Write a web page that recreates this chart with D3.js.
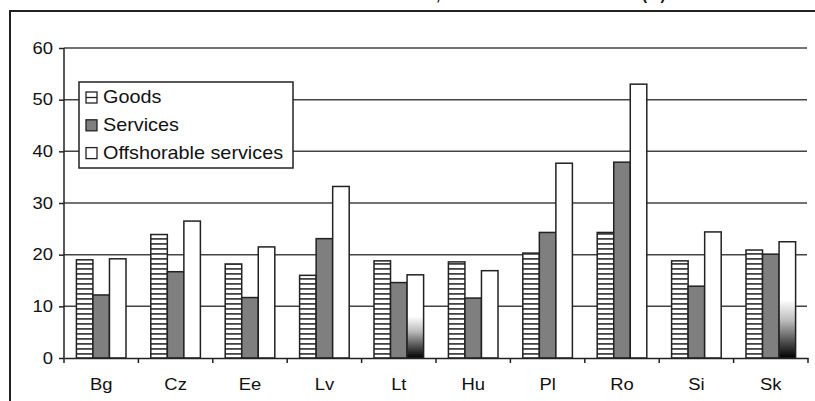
<!DOCTYPE html>
<html>
<head>
<meta charset="utf-8">
<script src="https://cdn.jsdelivr.net/npm/d3@7/dist/d3.min.js"></script>
<style>
  body { margin: 0; background: #fff; }
  svg { display: block; font-family: Arial, "Liberation Sans", sans-serif; }
</style>
</head>
<body>
<div id="chart"></div>
<script>
const countries = ["Bg", "Cz", "Ee", "Lv", "Lt", "Hu", "Pl", "Ro", "Si", "Sk"];
const seriesNames = ["Goods", "Services", "Offshorable services"];
const goods = [19.0, 23.9, 18.2, 16.0, 18.8, 18.6, 20.3, 24.3, 18.8, 20.9];
const services = [12.2, 16.7, 11.7, 23.1, 14.6, 11.6, 24.3, 37.9, 13.9, 20.1];
const offshorable = [19.2, 26.5, 21.5, 33.2, 16.1, 16.9, 37.7, 53.0, 24.4, 22.5];
const yTicks = [0, 10, 20, 30, 40, 50, 60];
const titleText = "Increase in the share, EU-10 relative to the EU-15 (%)";
// bars that show the dark smudge at the bottom in the scan
const smudged = ["Lt", "Sk"];

const W = 815, H = 401;
const plot = { left: 64, right: 808, top: 48, bottom: 358 };
const stretch = 1.15; // the original picture is a bit wider than tall

const data = countries.map((c, i) => ({
    country: c,
    values: [goods[i], services[i], offshorable[i]]
}));

const svg = d3.select("#chart").append("svg")
    .attr("width", W)
    .attr("height", H);

const defs = svg.append("defs");

const pat = defs.append("pattern")
    .attr("id", "stripes")
    .attr("patternUnits", "userSpaceOnUse")
    .attr("width", 6)
    .attr("height", 5);
pat.append("rect").attr("width", 6).attr("height", 5).attr("fill", "#fff");
pat.append("rect").attr("y", 3).attr("width", 6).attr("height", 1.8).attr("fill", "#444");

const grad = defs.append("linearGradient")
    .attr("id", "smudge")
    .attr("x1", 0).attr("y1", 0).attr("x2", 0).attr("y2", 1);
[[0, "#fff"], [0.5, "#fff"], [0.68, "#bbb"], [0.85, "#555"], [1, "#000"]].forEach(s => {
    grad.append("stop").attr("offset", s[0]).attr("stop-color", s[1]);
});

const fills = ["url(#stripes)", "#7f7f7f", "#fff"];

function widen(sel, k = stretch) {
    sel.each(function () {
        const len = this.getComputedTextLength();
        d3.select(this)
            .attr("textLength", len * k)
            .attr("lengthAdjust", "spacingAndGlyphs");
    });
}

// outer frame, runs off the right and bottom edge
svg.append("rect")
    .attr("x", 10).attr("y", 11)
    .attr("width", 830).attr("height", 420)
    .attr("fill", "none")
    .attr("stroke", "#222")
    .attr("stroke-width", 2);

// title, only the descenders are left in the crop
const title = svg.append("text")
    .attr("x", 0).attr("y", 0)
    .attr("font-size", 17)
    .attr("font-weight", "bold")
    .attr("fill", "#111")
    .text(titleText);
const tn = title.node();
const commaPos = tn.getStartPositionOfChar(titleText.indexOf(",")).x;
const parenPos = tn.getStartPositionOfChar(titleText.indexOf("(")).x;
const ts = (642 - 436) / (parenPos - commaPos);
title.attr("textLength", tn.getComputedTextLength() * ts)
    .attr("lengthAdjust", "spacingAndGlyphs")
    .attr("x", 436 - commaPos * ts);

const x0 = d3.scaleBand()
    .domain(countries)
    .range([plot.left, plot.right]);

const x1 = d3.scaleBand()
    .domain(seriesNames)
    .range([0, x0.bandwidth()])
    .paddingOuter(0.75);

const y = d3.scaleLinear()
    .domain([0, 60])
    .range([plot.bottom, plot.top]);

// gridlines
svg.append("g")
    .selectAll("line")
    .data(yTicks.filter(t => t > 0))
    .join("line")
    .attr("x1", plot.left).attr("x2", plot.right - 1)
    .attr("y1", d => y(d)).attr("y2", d => y(d))
    .attr("stroke", "#444")
    .attr("stroke-width", 1.5);

// y axis
const yAxis = svg.append("g")
    .attr("transform", `translate(${plot.left},0)`)
    .call(d3.axisLeft(y).tickValues(yTicks).tickSize(5).tickSizeOuter(0).tickPadding(6));
yAxis.select(".domain").remove();
yAxis.selectAll(".tick line").attr("stroke", "#222").attr("stroke-width", 1.5);
yAxis.selectAll(".tick text")
    .attr("font-size", 16)
    .attr("font-family", "Arial, 'Liberation Sans', sans-serif")
    .attr("fill", "#111")
    .call(widen);

svg.append("line")
    .attr("x1", plot.left).attr("x2", plot.left)
    .attr("y1", y(60)).attr("y2", plot.bottom + 5)
    .attr("stroke", "#222").attr("stroke-width", 1.5);

// bars
const groups = svg.append("g")
    .selectAll("g")
    .data(data)
    .join("g")
    .attr("transform", d => `translate(${x0(d.country)},0)`);

groups.selectAll("rect")
    .data(d => d.values.map((v, i) => ({ country: d.country, name: seriesNames[i], value: v, i })))
    .join("rect")
    .attr("x", d => x1(d.name))
    .attr("y", d => y(d.value))
    .attr("width", x1.bandwidth())
    .attr("height", d => y(0) - y(d.value))
    .attr("fill", d => (d.i === 2 && smudged.includes(d.country)) ? "url(#smudge)" : fills[d.i])
    .attr("stroke", "#222")
    .attr("stroke-width", 1.5);

// x axis
const xAxis = svg.append("g")
    .attr("transform", `translate(0,${plot.bottom})`)
    .call(d3.axisBottom(x0).tickSize(0).tickPadding(21));
xAxis.select(".domain").attr("stroke", "#222").attr("stroke-width", 1.5);
xAxis.selectAll(".tick text")
    .attr("font-size", 16)
    .attr("font-family", "Arial, 'Liberation Sans', sans-serif")
    .attr("fill", "#111")
    .call(widen);

svg.append("g")
    .selectAll("line")
    .data(countries.slice(1).map(c => x0(c)).concat([plot.right]))
    .join("line")
    .attr("x1", d => d).attr("x2", d => d)
    .attr("y1", plot.bottom).attr("y2", plot.bottom + 5)
    .attr("stroke", "#222").attr("stroke-width", 1.5);

// legend
const legend = svg.append("g");
legend.append("rect")
    .attr("x", 79).attr("y", 82)
    .attr("width", 214).attr("height", 86)
    .attr("fill", "#fff")
    .attr("stroke", "#222")
    .attr("stroke-width", 1.5);

const items = legend.selectAll("g.item")
    .data(seriesNames)
    .join("g")
    .attr("class", "item")
    .attr("transform", (d, i) => `translate(86,${92 + i * 27.8})`);

items.append("rect")
    .attr("width", 11).attr("height", 11)
    .attr("fill", (d, i) => i === 0 ? "#fff" : fills[i])
    .attr("stroke", "#222")
    .attr("stroke-width", 1.3);
items.filter((d, i) => i === 0).append("line")
    .attr("x1", 0).attr("x2", 11)
    .attr("y1", 5.5).attr("y2", 5.5)
    .attr("stroke", "#222").attr("stroke-width", 1.3);

items.append("text")
    .attr("x", 17).attr("y", 11.3)
    .attr("font-size", 18.5)
    .attr("fill", "#111")
    .text(d => d)
    .call(widen, 1.07);
</script>
</body>
</html>
